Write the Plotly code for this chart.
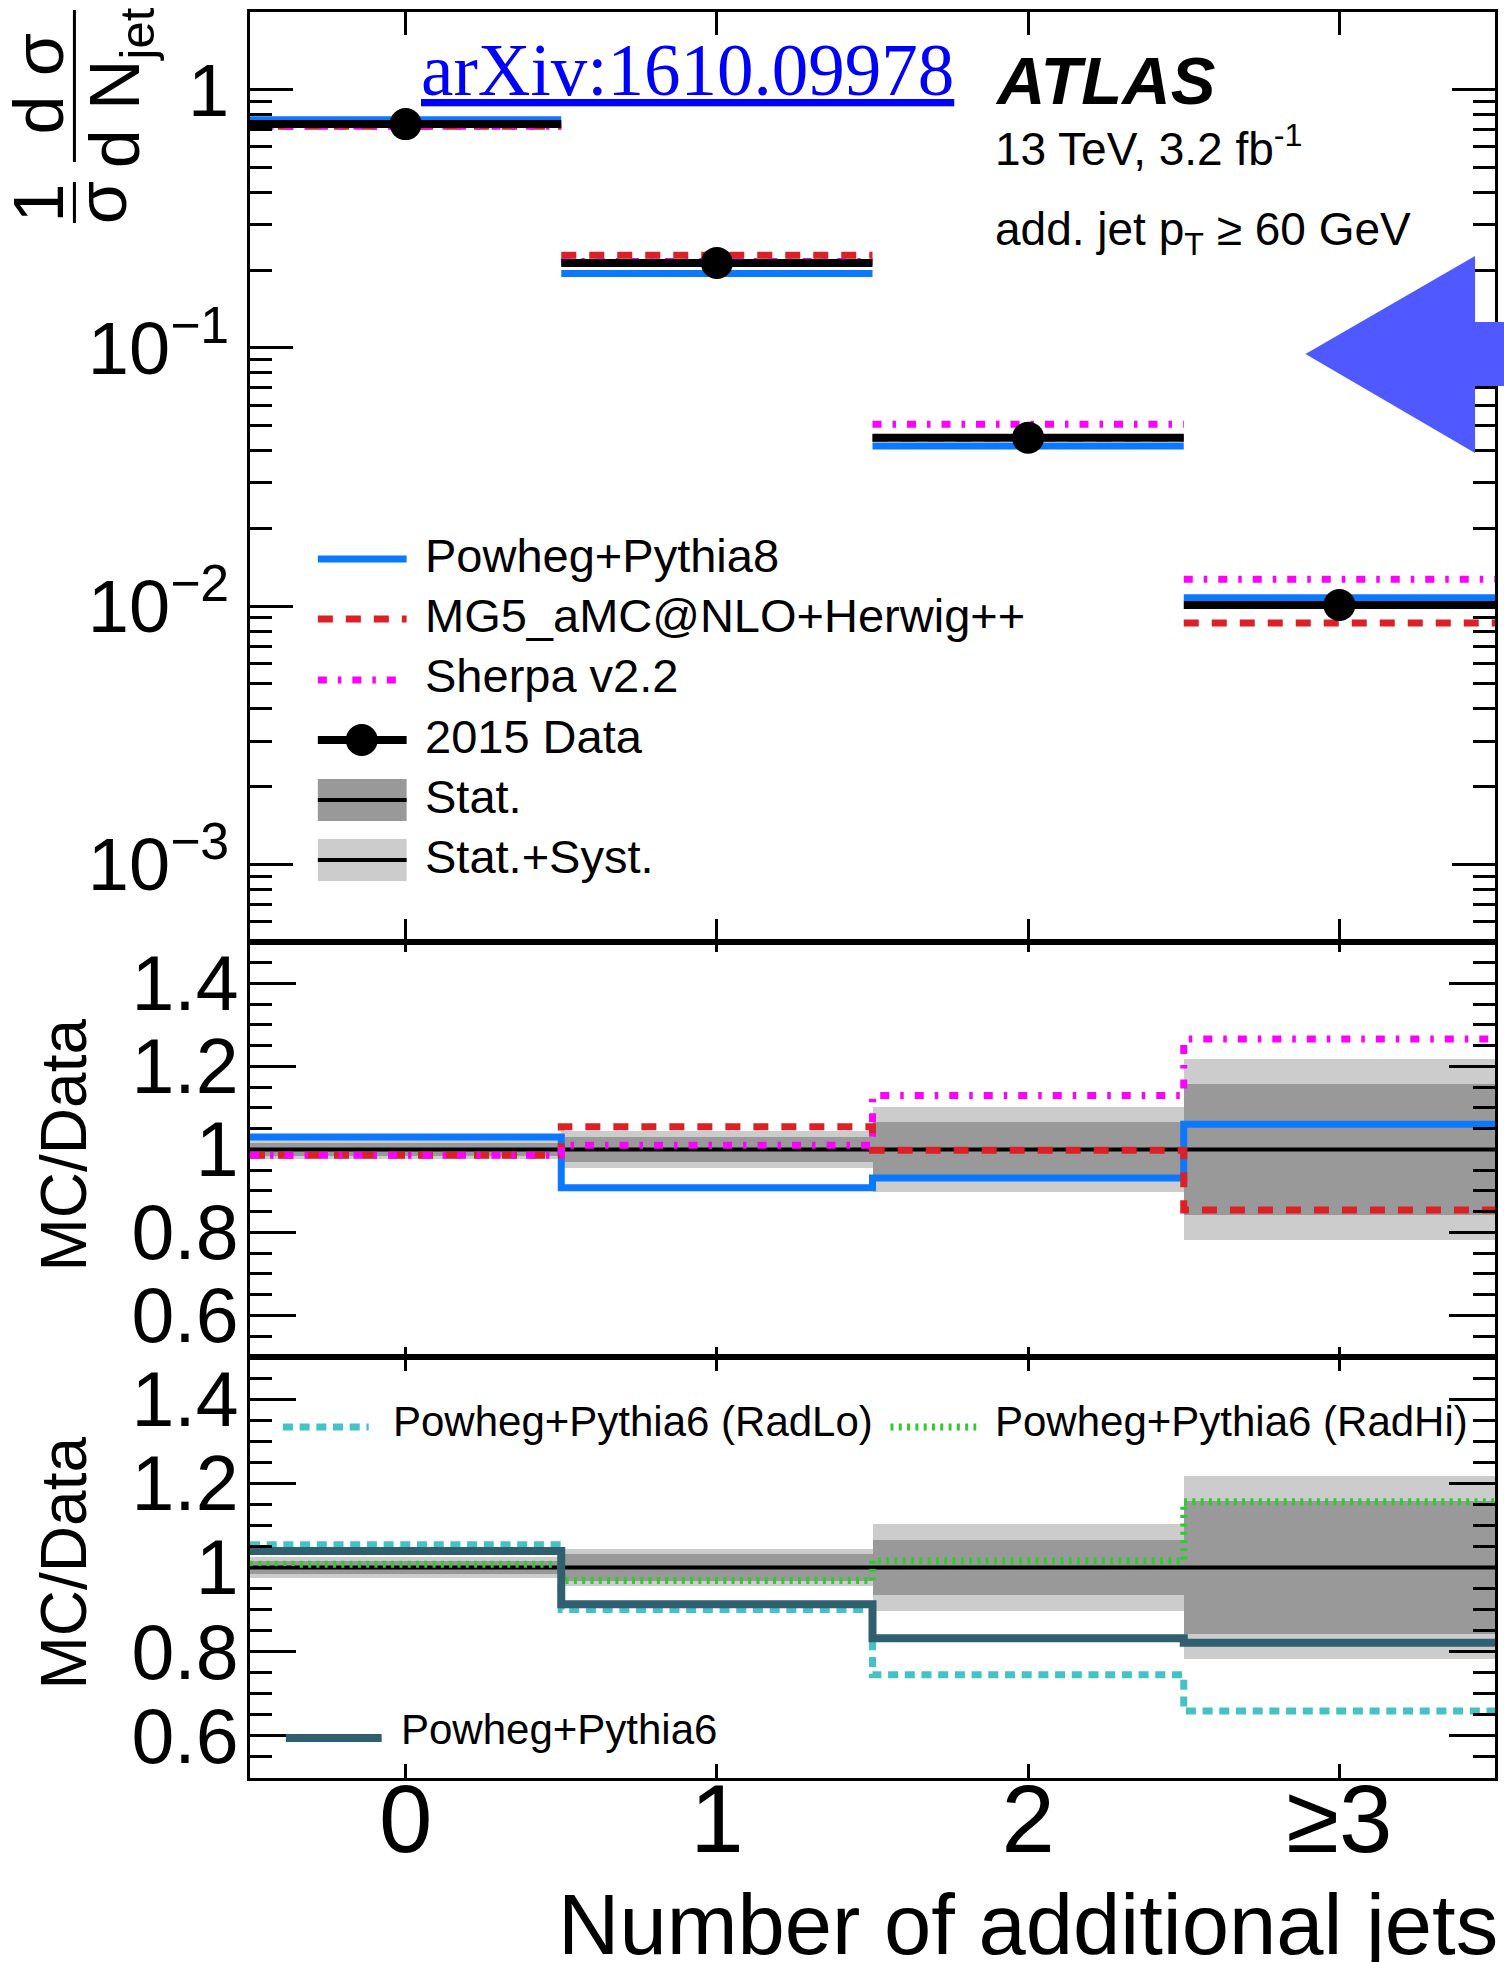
import plotly.graph_objects as go
from plotly.subplots import make_subplots

# ---------------- data ----------------
categories = ["0", "1", "2", "≥3"]
bin_centers = [0, 1, 2, 3]
bin_edges = [-0.5, 0.5, 1.5, 2.5, 3.5]

# top panel: normalised cross-section 1/sigma dsigma/dNjet
data_xsec = [0.736, 0.2134, 0.0449, 0.0101]
powheg_py8 = [0.765, 0.1942, 0.0417, 0.01078]
mg5_herwig = [0.722, 0.2287, 0.0448, 0.00859]
sherpa = [0.722, 0.2160, 0.0506, 0.0127]

# ratio panels (MC/Data)
ratio_data = [1.0, 1.0, 1.0, 1.0]
ratio_py8 = [1.030, 0.908, 0.931, 1.061]
ratio_mg5 = [0.986, 1.055, 0.998, 0.854]
ratio_sherpa = [0.986, 1.010, 1.130, 1.266]
stat_err = [0.015, 0.031, 0.066, 0.158]
total_err = [0.024, 0.044, 0.103, 0.217]

ratio_py6 = [1.039, 0.913, 0.832, 0.821]
ratio_radlo = [1.054, 0.900, 0.745, 0.659]
ratio_radhi = [1.008, 0.969, 1.016, 1.156]

top_tickvals = [0.001, 0.01, 0.1, 1]
top_ticktext = ["10<sup>−3</sup>", "10<sup>−2</sup>", "10<sup>−1</sup>", "1"]
top_minor = [k * 10.0 ** e for e in (-4, -3, -2, -1, 0) for k in range(2, 10)
             if 5e-4 <= k * 10.0 ** e <= 2]
ratio_tickvals = [0.6, 0.8, 1.0, 1.2, 1.4]
ratio_ticktext = ["0.6", "0.8", "1", "1.2", "1.4"]

# ---------------- styles ----------------
FONT = "Liberation Sans, Arial, Helvetica, sans-serif"
C_BLUE = "#0A78FF"
C_RED = "#DD1F26"
C_MAG = "#FF00FF"
C_CYAN = "#44C2C4"
C_GREEN = "#2ECC2E"
C_P6 = "#30606F"
C_STAT = "#999999"
C_SYST = "#CCCCCC"
D_RED = "15px,13px"
D_MAG = "9px,11px,3.5px,11px"
D_CYAN = "10px,6.7px"
D_GREEN = "3px,5.3px"

W, H = 1504, 1962
L, R, T, B = 250, 1498, 12, 1778


def px(x):
    return (x - L) / (R - L)


def py(y):
    return (B - y) / (B - T)


def step(vals):
    return bin_edges, list(vals) + [vals[-1]]


def segments(vals):
    xs, ys = [], []
    for i, v in enumerate(vals):
        xs += [bin_edges[i], bin_edges[i + 1], None]
        ys += [v, v, None]
    return xs, ys


fig = make_subplots(rows=3, cols=1, shared_xaxes=True, vertical_spacing=0)

# ---------- top panel ----------
for vals, col, dash, w in [(powheg_py8, C_BLUE, "solid", 7),
                           (mg5_herwig, C_RED, D_RED, 7),
                           (sherpa, C_MAG, D_MAG, 7)]:
    xs, ys = segments(vals)
    fig.add_trace(go.Scatter(x=xs, y=ys, mode="lines",
                             line=dict(color=col, width=w, dash=dash),
                             showlegend=False, hoverinfo="skip"), row=1, col=1)
fig.add_trace(go.Scatter(x=bin_centers, y=data_xsec, mode="markers",
                         marker=dict(color="black", size=32),
                         error_x=dict(type="constant", value=0.5, thickness=8,
                                      width=0, color="black"),
                         showlegend=False), row=1, col=1)

# ---------- ratio panels ----------
for row, lines in [(2, [(ratio_py8, C_BLUE, "solid", 7),
                        (ratio_mg5, C_RED, D_RED, 7),
                        (ratio_sherpa, C_MAG, D_MAG, 7)]),
                   (3, [(ratio_radlo, C_CYAN, D_CYAN, 7),
                        (ratio_radhi, C_GREEN, D_GREEN, 7),
                        (ratio_py6, C_P6, "solid", 8)])]:
    fig.add_trace(go.Bar(x=bin_centers, y=[2 * e for e in total_err],
                         base=[r - e for r, e in zip(ratio_data, total_err)],
                         width=1, marker=dict(color=C_SYST, line=dict(width=0)),
                         showlegend=False, hoverinfo="skip"), row=row, col=1)
    fig.add_trace(go.Bar(x=bin_centers, y=[2 * e for e in stat_err],
                         base=[r - e for r, e in zip(ratio_data, stat_err)],
                         width=1, marker=dict(color=C_STAT, line=dict(width=0)),
                         showlegend=False, hoverinfo="skip"), row=row, col=1)
    xs, ys = step(ratio_data)
    fig.add_trace(go.Scatter(x=xs, y=ys, mode="lines", line_shape="hv",
                             line=dict(color="black", width=4),
                             showlegend=False, hoverinfo="skip"), row=row, col=1)
    for vals, col, dash, w in lines:
        xs, ys = step(vals)
        fig.add_trace(go.Scatter(x=xs, y=ys, mode="lines", line_shape="hv",
                                 line=dict(color=col, width=w, dash=dash),
                                 showlegend=False, hoverinfo="skip"),
                      row=row, col=1)

# ---------- axes ----------
common_x = dict(range=[-0.5, 3.5], tickmode="array", tickvals=bin_centers,
                ticktext=categories, ticks="inside", showline=True,
                mirror="ticks", linewidth=3, linecolor="black",
                tickwidth=2.5, tickcolor="black", showgrid=False,
                zeroline=False)
fig.update_xaxes(**common_x)
fig.update_xaxes(ticklen=23, showticklabels=False, row=1, col=1)
fig.update_xaxes(ticklen=10, showticklabels=False, row=2, col=1)
fig.update_xaxes(ticklen=14, showticklabels=True, row=3, col=1,
                 ticklabelstandoff=-44,
                 tickfont=dict(family=FONT, size=96, color="black"))

common_y = dict(ticks="inside", showline=True, mirror="ticks", linewidth=3,
                linecolor="black", tickwidth=2.5, tickcolor="black",
                showgrid=False, zeroline=False,
                tickfont=dict(family=FONT, size=74, color="black"))
fig.update_yaxes(**common_y)
fig.update_yaxes(type="log", range=[-3.301, 0.301], tickmode="array",
                 tickvals=top_tickvals, ticktext=top_ticktext, ticklen=43,
                 ticklabelstandoff=3,
                 minor=dict(tickmode="array", tickvals=top_minor, ticks="inside",
                            ticklen=22, tickwidth=2.5, tickcolor="black",
                            showgrid=False),
                 domain=[0.4734, 1.0], row=1, col=1)
for row, dom in [(2, [0.2384, 0.4734]), (3, [0.0, 0.2384])]:
    fig.update_yaxes(range=[0.5, 1.5], tickmode="array",
                     tickvals=ratio_tickvals, ticktext=ratio_ticktext,
                     ticklen=46, ticklabelstandoff=-7,
                     tickfont=dict(family=FONT, size=77, color="black"),
                     minor=dict(dtick=0.05, ticks="inside", ticklen=22,
                                tickwidth=2.5, tickcolor="black",
                                showgrid=False),
                     domain=dom, row=row, col=1)

# ---------- annotations / legends ----------
ann = []
shapes = []


def text(x, y, s, size, anchor="left", color="black", family=FONT, angle=0):
    ann.append(dict(x=px(x), y=py(y), xref="paper", yref="paper", text=s,
                    showarrow=False, xanchor=anchor, yanchor="middle",
                    textangle=angle,
                    font=dict(family=family, size=size, color=color)))


def hline(x0, x1, y, color, width, dash="solid"):
    shapes.append(dict(type="line", xref="paper", yref="paper", x0=px(x0),
                       x1=px(x1), y0=py(y), y1=py(y),
                       line=dict(color=color, width=width, dash=dash)))


def vline(x, y0, y1, color, width):
    shapes.append(dict(type="line", xref="paper", yref="paper", x0=px(x),
                       x1=px(x), y0=py(y0), y1=py(y1),
                       line=dict(color=color, width=width)))


def rect(x0, x1, y0, y1, color):
    shapes.append(dict(type="rect", xref="paper", yref="paper", x0=px(x0),
                       x1=px(x1), y0=py(y0), y1=py(y1), fillcolor=color,
                       line=dict(width=0)))


# header texts
text(689, 71, "<u>arXiv:1610.09978</u>", 73, anchor="center", color="#0000FF",
     family="Liberation Serif, Times New Roman, serif")
text(995, 80, "<b><i>ATLAS</i></b>", 67)
text(995, 146, "13 TeV, 3.2 fb<sup>-1</sup>", 46)
text(995, 232, "add. jet p<sub>T</sub> ≥ 60 GeV", 46)

# top legend
leg_labels = ["Powheg+Pythia8", "MG5_aMC@NLO+Herwig++", "Sherpa v2.2",
              "2015 Data", "Stat.", "Stat.+Syst."]
leg_y = [559, 619, 680, 740, 800, 860]
hline(318, 407, leg_y[0], C_BLUE, 7)
hline(318, 407, leg_y[1], C_RED, 7, D_RED)
hline(318, 407, leg_y[2], C_MAG, 7, D_MAG)
hline(318, 407, leg_y[3], "black", 8)
shapes.append(dict(type="circle", xref="paper", yref="paper",
                   x0=px(362 - 16), x1=px(362 + 16), y0=py(leg_y[3] + 16),
                   y1=py(leg_y[3] - 16), fillcolor="black",
                   line=dict(width=0)))
rect(318, 407, leg_y[4] - 21, leg_y[4] + 21, C_STAT)
hline(318, 407, leg_y[4], "black", 4)
rect(318, 407, leg_y[5] - 21, leg_y[5] + 21, C_SYST)
hline(318, 407, leg_y[5], "black", 4)
for lab, yy in zip(leg_labels, leg_y):
    text(423, yy - 4, lab, 47)

# bottom legends
hline(283, 369, 1427, C_CYAN, 7, D_CYAN)
text(391, 1421, "Powheg+Pythia6 (RadLo)", 42)
hline(892, 978, 1427, C_GREEN, 7, D_GREEN)
text(995, 1421, "Powheg+Pythia6 (RadHi)", 42)
hline(286, 382, 1738, C_P6, 8)
text(399, 1729, "Powheg+Pythia6", 42)

# y titles
text(38, 203, "1", 70, anchor="center", angle=-90)
text(102, 203, "σ", 70, anchor="center", angle=-90)
vline(74, 182, 223, "black", 3)
text(38, 84, "d σ", 70, anchor="center", angle=-90)
vline(74, 10, 162, "black", 3)
text(120, 88, "d N<sub>jet</sub>", 70, anchor="center", angle=-90)
text(64, 1145, "MC/Data", 64, anchor="center", angle=-90)
text(64, 1563, "MC/Data", 64, anchor="center", angle=-90)

# x title
text(1503, 1924, "Number of additional jets", 85, anchor="right")

# blue arrow
pts = [(1308, 354), (1478, 256), (1478, 322), (1512, 322), (1512, 386),
       (1478, 386), (1478, 453)]
path = "M " + " L ".join(f"{px(a):.5f},{py(b):.5f}" for a, b in pts) + " Z"
shapes.append(dict(type="path", xref="paper", yref="paper", path=path,
                   fillcolor="#5058FF", line=dict(width=0), layer="above"))

fig.update_layout(width=W, height=H, margin=dict(l=L, r=W - R, t=T, b=H - B),
                  paper_bgcolor="white", plot_bgcolor="white",
                  barmode="overlay", bargap=0, showlegend=False,
                  annotations=ann, shapes=shapes,
                  font=dict(family=FONT, color="black"))

fig.write_html("out.html")
